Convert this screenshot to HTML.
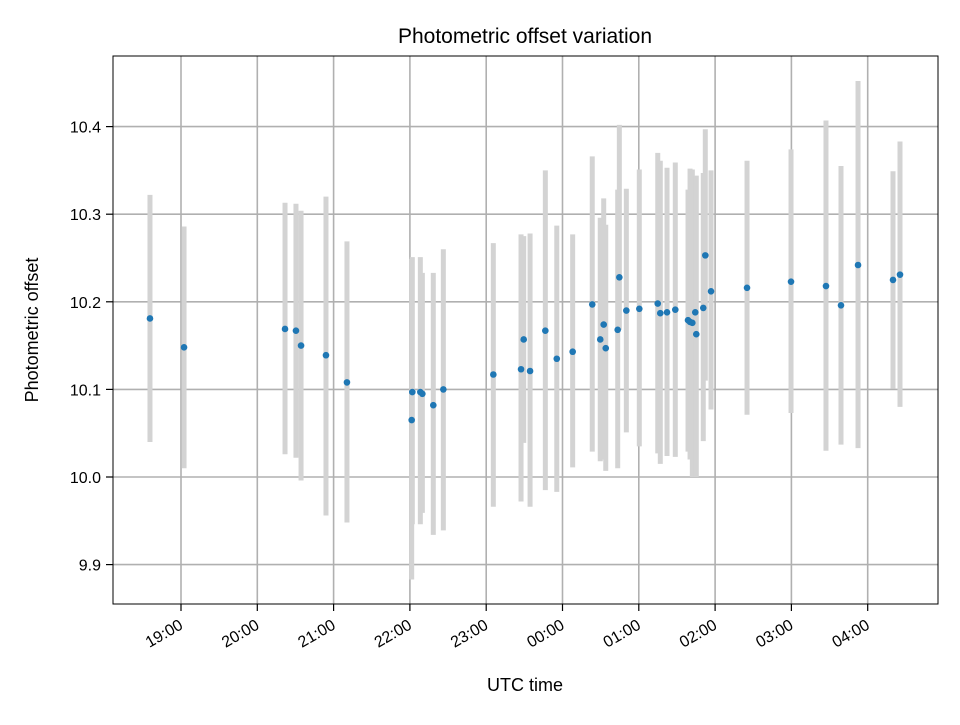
<!DOCTYPE html>
<html><head><meta charset="utf-8"><style>
body{margin:0;background:#fff}
svg text{font-family:"Liberation Sans","DejaVu Sans",sans-serif;fill:#000}
</style></head><body>
<svg id="chart" width="960" height="720" viewBox="0 0 960 720" xmlns="http://www.w3.org/2000/svg">
<rect width="960" height="720" fill="#fff"/>
<g id="grid"></g>
<g id="bars"></g>
<g id="pts"></g>
<rect x="113" y="56" width="825" height="548" fill="none" stroke="#000" stroke-width="1"/>
<g id="ticks"></g>
<text x="525" y="43" font-size="21" text-anchor="middle">Photometric offset variation</text>
<text x="525" y="691" font-size="18" text-anchor="middle">UTC time</text>
<text transform="translate(38,330) rotate(-90)" font-size="18" text-anchor="middle">Photometric offset</text>
</svg>
<script>
// minutes since 19:00 UTC
const times=[-24.4,2.4,81.8,90.4,94.4,114,130.5,181.4,181.9,188.2,189.8,198.4,206.3,245.6,267.4,269.5,274.5,286.5,295.5,308,323.4,329.7,332.4,334,343.4,344.7,350.2,360.4,374.9,376.9,382.2,388.7,398.7,400.3,402.1,404.4,405.2,410.7,412.3,416.8,445.1,479.7,507.2,519,532.4,559.9,565.4];
const offsets=[10.181,10.148,10.169,10.167,10.150,10.139,10.108,10.065,10.097,10.097,10.095,10.082,10.100,10.117,10.123,10.157,10.121,10.167,10.135,10.143,10.197,10.157,10.174,10.147,10.168,10.228,10.190,10.192,10.198,10.187,10.188,10.191,10.179,10.177,10.176,10.188,10.163,10.193,10.253,10.212,10.216,10.223,10.218,10.196,10.242,10.225,10.231];
const upper=[10.322,10.286,10.313,10.312,10.304,10.320,10.269,10.249,10.251,10.251,10.233,10.233,10.260,10.267,10.277,10.275,10.278,10.350,10.287,10.277,10.366,10.296,10.318,10.288,10.328,10.402,10.329,10.351,10.370,10.361,10.353,10.359,10.328,10.352,10.351,10.328,10.344,10.347,10.397,10.350,10.361,10.374,10.407,10.355,10.452,10.349,10.383];
const lower=[10.040,10.010,10.026,10.022,9.996,9.956,9.948,9.883,9.946,9.946,9.959,9.934,9.939,9.966,9.972,10.039,9.966,9.985,9.983,10.011,10.029,10.018,10.020,10.007,10.010,10.168,10.051,10.035,10.027,10.015,10.024,10.023,10.029,10.020,10.000,10.050,10.000,10.041,10.110,10.077,10.071,10.073,10.030,10.037,10.033,10.101,10.080];
const xTicks=[0,60,120,180,240,300,360,420,480,540];
const xTickLabels=["19:00","20:00","21:00","22:00","23:00","00:00","01:00","02:00","03:00","04:00"];
const yTicks=[9.9,10.0,10.1,10.2,10.3,10.4];
const yTickLabels=["9.9","10.0","10.1","10.2","10.3","10.4"];

const X=m=>181+m*(76.3/60);
const Y=v=>477-(v-10.0)*876;
const NS="http://www.w3.org/2000/svg";
function mk(tag,attrs,parent){const e=document.createElementNS(NS,tag);for(const k in attrs)e.setAttribute(k,attrs[k]);parent.appendChild(e);return e;}
const grid=document.getElementById('grid'),ticks=document.getElementById('ticks'),bars=document.getElementById('bars'),pts=document.getElementById('pts');
xTicks.forEach((t,i)=>{const x=X(t);
 const g=mk('line',{x1:x,x2:x,y1:56,y2:604,stroke:'#b0b0b0','stroke-width':1.6},grid);
 
 const tk=mk('line',{x1:x,x2:x,y1:604,y2:611,stroke:'#000','stroke-width':1.2},ticks);
 
 const tx=mk('text',{x:0,y:0,'font-size':16,'text-anchor':'end',transform:`translate(${x+3},${628}) rotate(-30)`},ticks);
 tx.textContent=xTickLabels[i];
 
});
yTicks.forEach((t,i)=>{const y=Y(t);
 const g=mk('line',{x1:113,x2:938,y1:y,y2:y,stroke:'#b0b0b0','stroke-width':1.6},grid);
 
 const tk=mk('line',{x1:106,x2:113,y1:y,y2:y,stroke:'#000','stroke-width':1.2},ticks);
 
 const tx=mk('text',{x:101,y:y+6,'font-size':16,'text-anchor':'end'},ticks);
 tx.textContent=yTickLabels[i];
 
});
times.forEach((t,i)=>{const x=X(t);
 const b=mk('line',{x1:x,x2:x,y1:Y(upper[i]),y2:Y(lower[i]),stroke:'#d3d3d3','stroke-width':5},bars);
 
});
times.forEach((t,i)=>{
 const c=mk('circle',{cx:X(t),cy:Y(offsets[i]),r:3.3,fill:'#1f77b4'},pts);
 
});
</script>
</body></html>
